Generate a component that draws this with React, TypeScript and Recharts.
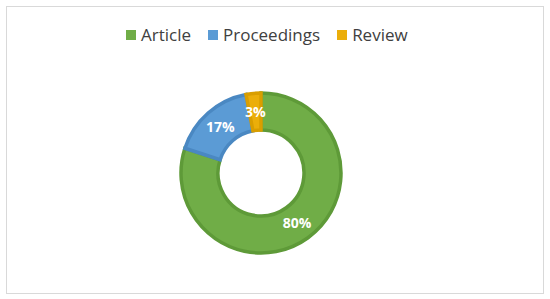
import React from "react";
import { PieChart, Pie, Cell } from "recharts";

const categories = ["Article", "Proceedings", "Review"];
const shares = [80, 17, 3];
const fills = ["#70AD47", "#5B9BD5", "#EBAE0A"];
const strokes = ["#5E9A38", "#4A88C2", "#D99E00"];

const data = categories.map((name, i) => ({ name, value: shares[i] }));

const RAD = Math.PI / 180;

const renderLabel = (props: any) => {
  const { cx, cy, midAngle, innerRadius, outerRadius, value } = props;
  const r = (innerRadius + outerRadius) / 2;
  const x = cx + r * Math.cos(-midAngle * RAD);
  const y = cy + r * Math.sin(-midAngle * RAD);
  return (
    <text
      x={x}
      y={y}
      fill="#FFFFFF"
      textAnchor="middle"
      dominantBaseline="central"
      fontFamily="'Open Sans', sans-serif"
      fontWeight="bold"
      fontSize={14}
    >
      {`${value}%`}
    </text>
  );
};

export default function App() {
  return (
    <div
      style={{
        position: "absolute",
        left: 6,
        top: 6,
        width: 538,
        height: 288,
        border: "1px solid #D9D9D9",
        boxSizing: "border-box",
        background: "#fff",
      }}
    >
      <div
        style={{
          position: "absolute",
          top: 16,
          left: 119,
          display: "flex",
          alignItems: "center",
          fontFamily: "'Open Sans', sans-serif",
          fontSize: 17,
          color: "#404040",
          whiteSpace: "nowrap",
        }}
      >
        {categories.map((c, i) => (
          <div key={c} style={{ display: "flex", alignItems: "center", marginRight: i < 2 ? 17 : 0 }}>
            <span style={{ width: 10, height: 10, background: fills[i], display: "inline-block", marginRight: 5 }} />
            <span>{c}</span>
          </div>
        ))}
      </div>
      <PieChart
        width={536}
        height={286}
        margin={{ top: 0, right: 0, bottom: 0, left: 0 }}
        style={{ position: "absolute", left: 0, top: 0 }}
      >
        <Pie
          data={data}
          dataKey="value"
          nameKey="name"
          cx={254}
          cy={166}
          innerRadius={43}
          outerRadius={80}
          startAngle={90}
          endAngle={-270}
          label={renderLabel}
          labelLine={false}
          isAnimationActive={false}
        >
          {data.map((d, i) => (
            <Cell key={d.name} fill={fills[i]} stroke={strokes[i]} strokeWidth={3.5} />
          ))}
        </Pie>
      </PieChart>
    </div>
  );
}
